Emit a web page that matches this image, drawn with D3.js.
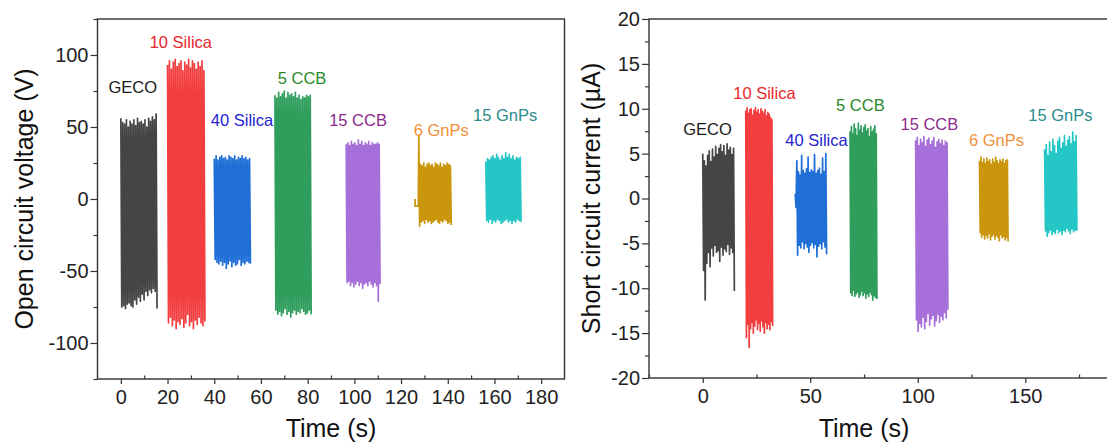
<!DOCTYPE html>
<html>
<head>
<meta charset="utf-8">
<script src="https://cdn.jsdelivr.net/npm/d3@7"></script>
<style>
  body { margin: 0; background: #fff; }
  svg { display: block; font-family: "Liberation Sans", Arial, sans-serif; }
</style>
</head>
<body>
<svg id="chart" width="1107" height="445"></svg>
<script>
// Samples and their colours
const samples = ["GECO", "10 Silica", "40 Silica", "5 CCB", "15 CCB", "6 GnPs", "15 GnPs"];
const traceColors = ["#454545", "#f23e3e", "#1f6fd6", "#2f9e5c", "#a66fd9", "#c9960c", "#25c6c6"];
const labelColors = ["#1a1a1a", "#e8262b", "#2323d2", "#2a8a2a", "#8b2a8b", "#f0903a", "#2a8c8c"];

// Open circuit voltage (V): time window of each run (s) and its successive peak values
const vocStart = [0, 20, 40, 66, 96.5, 127.6, 156.3];
const vocEnd   = [15.5, 36, 55.5, 81.5, 111, 141.5, 171.4];
const vocHigh = [
  [56, 53, 52, 55, 50, 54, 52, 55, 51, 56, 53, 54, 52, 55, 50, 56, 54, 57, 55, 59],
  [93, 96, 90, 95, 97, 92, 94, 96, 89, 95, 93, 97, 91, 96, 94, 90, 95, 92, 96, 89],
  [28, 30, 27, 29, 30, 28, 29, 27, 30, 29, 28, 30, 27, 29, 28, 30, 28, 29, 27, 28],
  [72, 70, 74, 71, 73, 75, 70, 74, 72, 73, 71, 74, 70, 72, 69, 71, 70, 72, 71, 72],
  [38, 39, 37, 40, 38, 39, 37, 41, 38, 40, 37, 39, 38, 40, 37, 39, 38, 38, 39, 38],
  [44, 24, 23, 25, 22, 24, 25, 23, 24, 22, 25, 24, 23, 25, 22, 24, 23, 25, 24, 23],
  [26, 28, 27, 29, 30, 28, 31, 29, 27, 30, 28, 32, 29, 31, 28, 30, 27, 29, 28, 29]
];
const vocLow = [
  [-75, -74, -76, -73, -72, -74, -75, -70, -73, -68, -71, -66, -70, -64, -67, -63, -65, -62, -64, -76],
  [-86, -82, -88, -84, -90, -85, -87, -83, -89, -86, -80, -88, -85, -90, -84, -87, -82, -86, -88, -85],
  [-42, -44, -45, -43, -46, -44, -48, -45, -43, -47, -44, -46, -45, -42, -46, -44, -45, -43, -44, -45],
  [-77, -80, -78, -81, -79, -76, -80, -78, -82, -79, -77, -80, -78, -79, -76, -78, -80, -79, -77, -80],
  [-58, -57, -60, -58, -61, -59, -57, -60, -58, -62, -59, -58, -60, -57, -59, -61, -58, -60, -71, -59],
  [-19, -16, -15, -17, -14, -16, -15, -17, -16, -15, -14, -16, -17, -15, -16, -14, -15, -17, -16, -18],
  [-15, -16, -14, -17, -15, -16, -14, -15, -17, -16, -15, -14, -16, -15, -17, -15, -16, -14, -15, -16]
];
// Short step recorded just before the 6 GnPs voltage run: [time, V]
const gnp6VocLead = [[126.0, 0], [126.0, -5], [127.4, -5], [127.4, 0]];

// Short circuit current (µA)
const iscStart = [0, 20, 43, 68.5, 99, 128.7, 159];
const iscEnd   = [14.7, 32.5, 57.6, 81, 114, 142, 174];
const iscHigh = [
  [5.0, 4.2, 3.6, 4.8, 5.3, 4.1, 5.5, 4.6, 5.8, 4.9, 5.6, 6.0, 5.2, 5.9, 4.8, 6.1, 5.4, 5.7, 4.9, 5.6],
  [9.8, 10.1, 9.5, 9.9, 10.0, 9.3, 9.8, 10.1, 9.6, 9.9, 9.4, 10.0, 9.7, 9.5, 9.9, 9.2, 9.6, 9.4, 9.0, 8.8],
  [0.5, 4.2, 3.0, 2.6, 4.8, 3.1, 2.8, 3.3, 4.6, 2.9, 3.2, 3.0, 4.9, 2.8, 3.1, 3.4, 2.7, 4.5, 3.0, 5.0],
  [7.5, 8.0, 7.2, 8.3, 7.8, 7.0, 8.4, 7.6, 8.1, 7.3, 7.9, 8.2, 7.5, 7.8, 6.9, 8.0, 7.4, 7.7, 8.1, 7.2],
  [6.5, 6.8, 5.9, 6.6, 6.2, 6.9, 5.8, 6.5, 6.7, 6.0, 6.4, 6.8, 5.7, 6.3, 6.6, 6.1, 6.5, 5.9, 6.4, 6.2],
  [4.2, 4.6, 4.0, 4.4, 3.9, 4.5, 4.1, 4.3, 3.8, 4.4, 4.0, 4.6, 4.2, 3.9, 4.3, 4.1, 4.4, 3.9, 4.2, 4.3],
  [5.5, 6.0, 4.8, 6.3, 5.2, 6.6, 5.9, 5.0, 6.4, 6.8, 5.6, 6.2, 7.0, 5.8, 6.5, 6.9, 6.1, 7.4, 6.3, 7.0]
];
const iscLow = [
  [-8.0, -11.3, -7.2, -6.0, -7.6, -5.5, -6.4, -5.2, -6.0, -5.8, -7.0, -5.4, -6.3, -5.6, -5.9, -5.1, -6.2, -5.5, -6.0, -10.3],
  [-15.5, -14.0, -16.6, -14.5, -13.8, -15.0, -14.2, -13.5, -14.6, -13.9, -14.8, -13.6, -14.3, -15.0, -13.8, -14.5, -14.0, -14.6, -13.7, -14.2],
  [-1.0, -6.3, -5.2, -5.5, -4.8, -5.6, -5.0, -5.4, -6.0, -5.2, -4.9, -5.5, -5.1, -6.5, -5.3, -5.0, -5.6, -4.8, -5.4, -6.2],
  [-10.5, -10.8, -10.2, -10.9, -10.6, -10.4, -11.0, -10.7, -10.3, -10.8, -10.5, -11.1, -10.6, -10.9, -10.4, -10.7, -11.3, -10.8, -11.0, -11.2],
  [-13.5, -14.8, -13.9, -14.3, -13.2, -14.5, -13.7, -12.8, -14.1, -13.4, -13.0, -14.2, -13.6, -12.9, -13.8, -13.1, -13.5, -12.7, -13.3, -12.4],
  [-3.8, -4.3, -4.0, -4.5, -4.1, -4.4, -3.9, -4.6, -4.2, -4.0, -4.5, -4.1, -4.3, -4.7, -4.0, -4.4, -4.2, -4.6, -4.3, -4.8],
  [-3.6, -4.2, -3.8, -3.5, -4.0, -3.7, -3.9, -3.4, -3.8, -3.6, -4.0, -3.5, -3.7, -3.3, -3.6, -3.9, -3.4, -3.7, -3.5, -3.6]
];

// Axis ticks
const vocXTicks = [0, 20, 40, 60, 80, 100, 120, 140, 160, 180];
const vocXMinor = [10, 30, 50, 70, 90, 110, 130, 150, 170];
const vocYTicks = [-100, -50, 0, 50, 100];
const vocYMinor = [-125, -75, -25, 25, 75, 125];
const iscXTicks = [0, 50, 100, 150];
const iscXMinor = [-25, 25, 75, 125, 175];
const iscYTicks = [-20, -15, -10, -5, 0, 5, 10, 15, 20];
const iscYMinor = [-17.5, -12.5, -7.5, -2.5, 2.5, 7.5, 12.5, 17.5];

// Where each sample's name sits, in data units [time, value]
const vocLabelAt = [[5.1, 77.6], [25.7, 109], [51.9, 54.6], [77.6, 83.9], [101.6, 54.6], [137.2, 47.6], [164.6, 58]];
const iscLabelAt = [[2.2, 7.7], [28.7, 11.75], [52.9, 6.5], [73.3, 10.4], [105.4, 8.3], [136.6, 6.5], [166.3, 9.3]];

const svg = d3.select("#chart");

// alternate successive maxima and minima evenly across a run
function zigzag(start, end, high, low) {
  const n = high.length, pts = [];
  const m = 2 * n - 1;
  for (let j = 0; j <= m; j++) {
    const t = start + (end - start) * j / m;
    pts.push([t, j % 2 === 0 ? high[j >> 1] : low[j >> 1]]);
  }
  return pts;
}

const plain = d => String(d);

function panel(opt) {
  const { left, right, top, bottom } = opt.box;
  const x = d3.scaleLinear().domain(opt.xDomain).range([left, right]);
  const y = d3.scaleLinear().domain(opt.yDomain).range([bottom, top]);
  const g = svg.append("g");

  // traces
  const line = d3.line().x(d => x(d[0])).y(d => y(d[1]));
  samples.forEach((s, i) => {
    let pts = zigzag(opt.start[i], opt.end[i], opt.high[i], opt.low[i]);
    if (opt.lead && opt.lead[i]) pts = opt.lead[i].concat(pts);
    g.append("path")
      .attr("d", line(pts))
      .attr("fill", "none")
      .attr("stroke", traceColors[i])
      .attr("stroke-width", 1.7)
      .attr("stroke-linejoin", "round");
  });

  // sample names
  samples.forEach((s, i) => {
    g.append("text")
      .attr("x", x(opt.labelAt[i][0]))
      .attr("y", y(opt.labelAt[i][1]))
      .attr("dy", "0.35em")
      .attr("text-anchor", "middle")
      .attr("font-size", 16.5)
      .attr("fill", labelColors[i])
      .text(s);
  });

  // frame
  g.append("rect")
    .attr("x", left).attr("y", top)
    .attr("width", right - left).attr("height", bottom - top)
    .attr("fill", "none").attr("stroke", "#333").attr("stroke-width", 1.4);

  const styleAxis = sel => {
    sel.select(".domain").remove();
    sel.selectAll("line").attr("stroke", "#333").attr("stroke-width", 1.2);
    sel.selectAll("text").attr("font-size", 20).attr("fill", "#222")
      .attr("font-family", "'Liberation Sans', Arial, sans-serif");
  };

  g.append("g").attr("transform", `translate(0,${bottom})`)
    .call(d3.axisBottom(x).tickValues(opt.xTicks).tickSize(5).tickPadding(6).tickFormat(plain))
    .call(styleAxis);
  g.append("g").attr("transform", `translate(0,${bottom})`)
    .call(d3.axisBottom(x).tickValues(opt.xMinor).tickSize(-3.5).tickFormat(""))
    .call(styleAxis);
  g.append("g").attr("transform", `translate(${left},0)`)
    .call(d3.axisLeft(y).tickValues(opt.yTicks).tickSize(7).tickPadding(2).tickFormat(plain))
    .call(styleAxis);
  g.append("g").attr("transform", `translate(${left},0)`)
    .call(d3.axisLeft(y).tickValues(opt.yMinor).tickSize(4).tickFormat(""))
    .call(styleAxis);

  // axis titles
  g.append("text")
    .attr("x", (x(opt.titleX[0]) + x(opt.titleX[1])) / 2)
    .attr("y", 437)
    .attr("text-anchor", "middle")
    .attr("font-size", 25)
    .attr("fill", "#111")
    .text("Time (s)");
  g.append("text")
    .attr("transform", `translate(${opt.yTitleX},${(top + bottom) / 2}) rotate(-90)`)
    .attr("text-anchor", "middle")
    .attr("font-size", 25)
    .attr("fill", "#111")
    .text(opt.yTitle);
}

panel({
  box: { left: 97.5, right: 564.5, top: 19, bottom: 379 },
  xDomain: [-10, 190], yDomain: [-125, 125],
  start: vocStart, end: vocEnd, high: vocHigh, low: vocLow,
  lead: [null, null, null, null, null, gnp6VocLead, null],
  labelAt: vocLabelAt,
  xTicks: vocXTicks, xMinor: vocXMinor, yTicks: vocYTicks, yMinor: vocYMinor,
  titleX: [-10, 190],
  yTitleX: 33, yTitle: "Open circuit voltage (V)"
});

panel({
  box: { left: 649, right: 1132.8, top: 19, bottom: 378 },
  xDomain: [-25, 200], yDomain: [-20, 20],
  start: iscStart, end: iscEnd, high: iscHigh, low: iscLow,
  labelAt: iscLabelAt,
  xTicks: iscXTicks, xMinor: iscXMinor, yTicks: iscYTicks, yMinor: iscYMinor,
  titleX: [-25, 175],
  yTitleX: 600, yTitle: "Short circuit current (\u00b5A)"
});
</script>
</body>
</html>
